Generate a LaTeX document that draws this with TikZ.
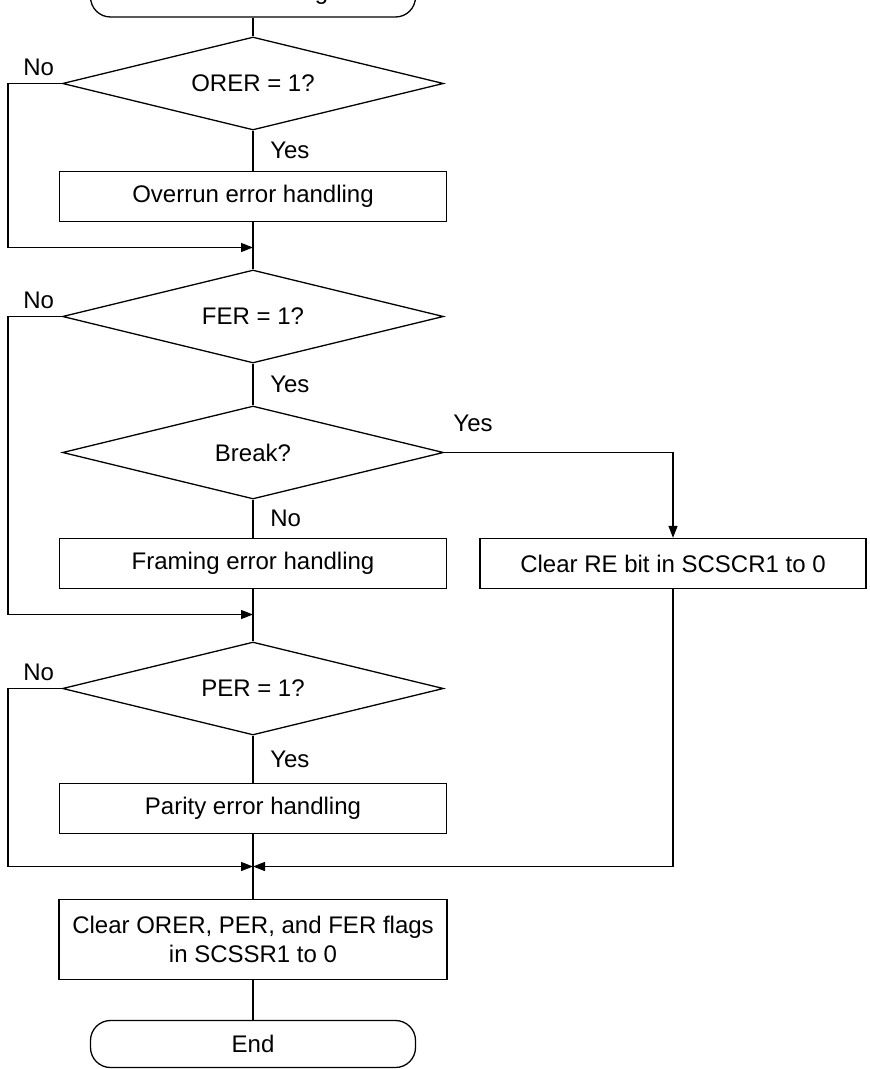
\documentclass[tikz,border=0pt]{standalone}
\usepackage{fontspec}
\setsansfont{Liberation Sans}
\usetikzlibrary{arrows.meta,shapes.geometric,positioning}

\begin{document}
\begin{tikzpicture}[x=0.5pt, y=-0.5pt, font=\sffamily\fontsize{12pt}{14.5pt}\selectfont,
    >={Triangle[length=6pt,width=4.5pt]}, line width=0.65pt, on grid,
    term/.style={draw, rounded corners=10pt, minimum width=162.5pt, minimum height=23.5pt},
    box/.style={draw, minimum width=193.5pt, minimum height=25pt, align=center},
    decision/.style={draw, diamond, aspect=4, inner sep=0pt, minimum width=190.5pt, minimum height=46.5pt},
    lbl/.style={right, xshift=5pt}]
  % Receive error handling flow
  \useasboundingbox (0,0) rectangle (869,1069);
  \clip (0,0) rectangle (869,1069);
  \coordinate (xl) at (8,0);
  \node[term] (start) at (253,-6.5) {Error handling};
  \node[decision, below=45pt of start] (orer) {ORER = 1?};
  \node[box, below=56.5pt of orer] (overrun) {Overrun error handling};
  \coordinate[below=25.5pt of overrun] (m1);
  \node[decision, below=60pt of overrun] (fer) {FER = 1?};
  \node[decision, below=68pt of fer] (brk) {Break?};
  \node[box, below=55.5pt of brk] (framing) {Framing error handling};
  \node[box, minimum width=193pt, right=210pt of framing] (clrre) {Clear RE bit in SCSCR1 to 0};
  \coordinate[below=25.5pt of framing] (m2);
  \node[decision, below=62.5pt of framing] (per) {PER = 1?};
  \node[box, below=60pt of per] (parity) {Parity error handling};
  \coordinate[below=29pt of parity] (m3);
  \node[box, minimum width=194pt, minimum height=40pt, below=65.5pt of parity] (clrflags)
    {Clear ORER, PER, and FER flags\\in SCSSR1 to 0};
  \node[term, below=52.25pt of clrflags] (end) {End};

  \draw (start) -- (orer);
  \draw (orer) -- node[lbl]{Yes} (overrun);
  \draw (overrun) -- (m1) -- (fer);
  \draw[->] (orer.west) -- (orer.west -| xl) node[above right, xshift=4pt]{No} |- (m1);
  \draw (fer) -- node[lbl]{Yes} (brk);
  \draw (brk) -- node[lbl]{No} (framing);
  \draw[->] (brk.east) -- node[pos=0, above right, xshift=1pt, yshift=6.5pt]{Yes} (brk.east -| clrre) -- (clrre);
  \draw (framing) -- (m2) -- (per);
  \draw[->] (fer.west) -- (fer.west -| xl) node[above right, xshift=4pt]{No} |- (m2);
  \draw (per) -- node[lbl]{Yes} (parity);
  \draw (parity) -- (m3) -- (clrflags);
  \draw[->] (per.west) -- (per.west -| xl) node[above right, xshift=4pt]{No} |- (m3);
  \draw[->] (clrre) |- (m3);
  \draw (clrflags) -- (end);
\end{tikzpicture}
\end{document}
